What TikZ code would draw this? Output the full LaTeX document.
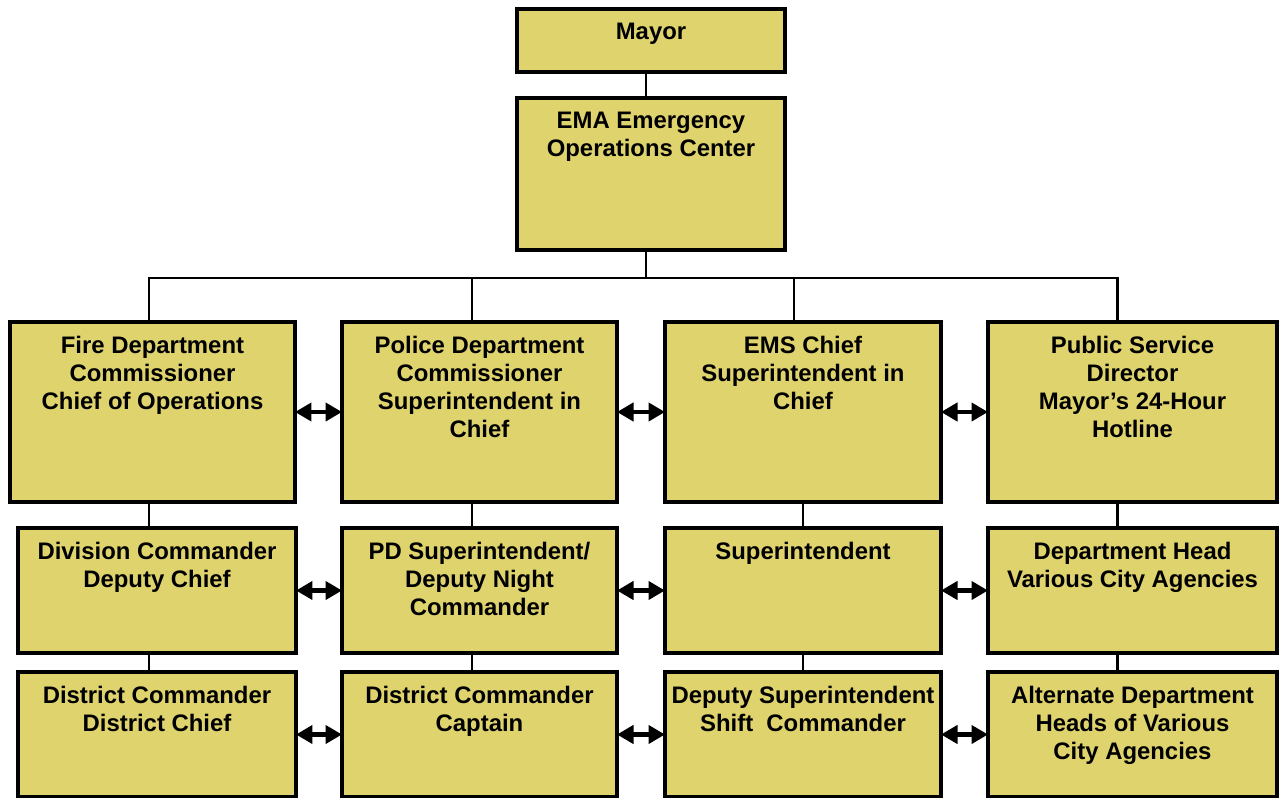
\documentclass[tikz,border=0pt]{standalone}
\usepackage{fontspec}
\setmainfont{Liberation Sans}
\usetikzlibrary{arrows.meta}
\definecolor{boxfill}{RGB}{223,211,110}

\begin{document}
\begin{tikzpicture}[x=0.02cm, y=-0.02cm,
    box/.style={draw, line width=2pt, fill=boxfill, outer sep=0pt, inner sep=0pt},
    sz/.style 2 args={minimum width=#1*0.02cm, minimum height=#2*0.02cm},
    lbl/.style={anchor=north, inner sep=0pt, yshift=-0.28cm, align=center,
        font=\fontsize{13.6}{15.9}\selectfont\bfseries},
    link/.style={line width=1.7pt},
    twoway/.style={line width=2.4pt,
        {Triangle[length=0.33cm,width=0.36cm]}-{Triangle[length=0.33cm,width=0.36cm]}}]
    \useasboundingbox (0,0) rectangle (1279,798);

    % Top of the chart
    \node[box, sz={268}{63}, label={[lbl]north:Mayor}] (mayor) at (651,40.5) {};
    \node[box, sz={268}{152}, label={[lbl]north:{EMA Emergency\\Operations Center}}] (ema) at (651,174) {};

    % First row of departments
    \node[box, sz={285}{180}, label={[lbl]north:{Fire Department\\Commissioner\\Chief of Operations}}] (fire) at (152.5,412) {};
    \node[box, sz={275}{180}, label={[lbl]north:{Police Department\\Commissioner\\Superintendent in\\Chief}}] (police) at (479.5,412) {};
    \node[box, sz={276}{180}, label={[lbl]north:{EMS Chief\\Superintendent in\\Chief}}] (ems) at (803,412) {};
    \node[box, sz={289}{180}, label={[lbl]north:{Public Service\\Director\\Mayor’s 24-Hour\\Hotline}}] (pubserv) at (1132.5,412) {};

    % Second row
    \node[box, sz={278}{125}, label={[lbl]north:{Division Commander\\Deputy Chief}}] (divcmd) at (157,590.5) {};
    \node[box, sz={275}{125}, label={[lbl]north:{PD Superintendent/\\Deputy Night\\Commander}}] (pdsup) at (479.5,590.5) {};
    \node[box, sz={276}{125}, label={[lbl]north:{Superintendent}}] (super) at (803,590.5) {};
    \node[box, sz={289}{125}, label={[lbl]north:{Department Head\\Various City Agencies}}] (depthead) at (1132.5,590.5) {};

    % Third row
    \node[box, sz={278}{125}, label={[lbl]north:{District Commander\\District Chief}}] (distchief) at (157,734.5) {};
    \node[box, sz={275}{125}, label={[lbl]north:{District Commander\\Captain}}] (captain) at (479.5,734.5) {};
    \node[box, sz={276}{125}, label={[lbl]north:{Deputy Superintendent\\Shift~ Commander}}] (shiftcmd) at (803,734.5) {};
    \node[box, sz={289}{125}, label={[lbl]north:{Alternate Department\\Heads of Various\\City Agencies}}] (althead) at (1132.5,734.5) {};

    % Lines from the top down to the bus
    \coordinate (hub) at (646,278);
    \coordinate (d1) at (149,278);
    \coordinate (d2) at (472,278);
    \coordinate (d3) at (794,278);
    \coordinate (d4) at (1117,278);
    \draw[link] (mayor.south -| hub) -- (ema.north -| hub);
    \draw[link] (ema.south -| hub) -- (hub);
    \draw[link] (fire.north -| d1) -- (d1) -- (d4) -- (pubserv.north -| d4);
    \draw[link] (d2) -- (police.north -| d2);
    \draw[link] (d3) -- (ems.north -| d3);

    % Lines between the rows
    \foreach \a/\b/\x in {fire/divcmd/149, police/pdsup/472, ems/super/803, pubserv/depthead/1117,
        divcmd/distchief/149, pdsup/captain/472, super/shiftcmd/803, depthead/althead/1117} {
        \draw[link] (\a.south -| \x,0) -- (\b.north -| \x,0);
    }

    % Two-way arrows between neighbours
    \foreach \a/\b in {fire/police, police/ems, ems/pubserv, divcmd/pdsup, pdsup/super,
        super/depthead, distchief/captain, captain/shiftcmd, shiftcmd/althead} {
        \draw[twoway] (\a.east) -- (\b.west);
    }
\end{tikzpicture}
\end{document}
